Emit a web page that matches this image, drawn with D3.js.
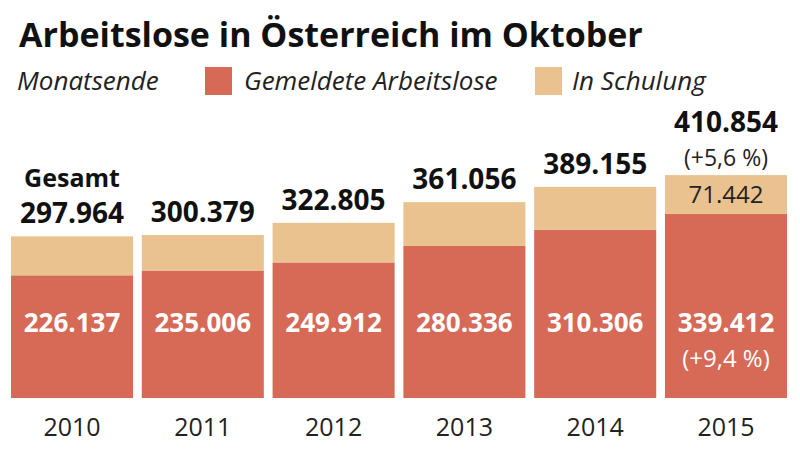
<!DOCTYPE html>
<html>
<head>
<meta charset="utf-8">
<script src="https://cdn.jsdelivr.net/npm/d3@7"></script>
<style>
  html, body { margin: 0; padding: 0; background: #fff; }
  svg { display: block; font-family: "Open Sans", "Noto Sans", sans-serif; }
</style>
</head>
<body>
<svg id="chart" width="800" height="452"></svg>
<script>
const years = ["2010", "2011", "2012", "2013", "2014", "2015"];
const gemeldet = [226137, 235006, 249912, 280336, 310306, 339412];
const schulung = [71827, 65373, 72893, 80720, 78849, 71442];
const gesamt = [297964, 300379, 322805, 361056, 389155, 410854];
const seriesNames = ["Gemeldete Arbeitslose", "In Schulung"];
const colors = ["#d66a57", "#e9c28f"];

const de = d3.formatLocale({ decimal: ",", thousands: ".", grouping: [3], currency: ["", " €"] });
const fmt = de.format(",d");

const svg = d3.select("#chart");

const x = d3.scaleBand().domain(years).range([11, 787]).paddingInner(0.067).paddingOuter(0);
const y = d3.scaleLinear().domain([0, 400000]).range([398, 181]);

const data = years.map((yr, i) => ({ year: yr, g: gemeldet[i], s: schulung[i], t: gesamt[i] }));

// Title
svg.append("text").attr("x", 19).attr("y", 47)
  .attr("font-size", 34).attr("font-weight", 700).attr("fill", "#111")
  .text("Arbeitslose in Österreich im Oktober");

// Legend
const lg = svg.append("g").attr("font-style", "italic").attr("font-size", 26).attr("fill", "#222");
lg.append("text").attr("x", 17).attr("y", 90).text("Monatsende");
lg.append("rect").attr("x", 205).attr("y", 67).attr("width", 27).attr("height", 28).attr("fill", colors[0]);
lg.append("text").attr("x", 244).attr("y", 90).text(seriesNames[0]);
lg.append("rect").attr("x", 535).attr("y", 67).attr("width", 27).attr("height", 28).attr("fill", colors[1]);
lg.append("text").attr("x", 572).attr("y", 90).text(seriesNames[1]);

// Bars
const bars = svg.append("g");
bars.selectAll("rect.g").data(data).join("rect").attr("class", "g")
  .attr("x", d => x(d.year)).attr("width", x.bandwidth())
  .attr("y", d => y(d.g)).attr("height", d => y(0) - y(d.g))
  .attr("fill", colors[0]);
bars.selectAll("rect.s").data(data).join("rect").attr("class", "s")
  .attr("x", d => x(d.year)).attr("width", x.bandwidth())
  .attr("y", d => y(d.g + d.s)).attr("height", d => y(d.g) - y(d.g + d.s))
  .attr("fill", colors[1]);

const cx = d => x(d.year) + x.bandwidth() / 2;
const last = data.length - 1;

// Inner values
svg.append("g").selectAll("text").data(data).join("text")
  .attr("x", cx).attr("y", 332).attr("text-anchor", "middle")
  .attr("font-size", 26).attr("font-weight", 700).attr("fill", "#fff")
  .text(d => fmt(d.g));
svg.append("text").attr("x", cx(data[last])).attr("y", 367).attr("text-anchor", "middle")
  .attr("font-size", 24).attr("fill", "#fff").text("(+9,4 %)");

// Schulung label on last bar
svg.append("text").attr("x", cx(data[last])).attr("y", (y(data[last].g) + y(data[last].g + data[last].s)) / 2 + 9)
  .attr("text-anchor", "middle").attr("font-size", 24).attr("fill", "#222")
  .text(fmt(data[last].s));

// Totals
svg.append("g").selectAll("text").data(data).join("text")
  .attr("x", cx).attr("y", (d, i) => i === last ? y(d.t) - 43 : y(d.t) - 13)
  .attr("text-anchor", "middle").attr("font-size", 28).attr("font-weight", 700).attr("fill", "#111")
  .text(d => fmt(d.t));
svg.append("text").attr("x", cx(data[last])).attr("y", y(data[last].t) - 9).attr("text-anchor", "middle")
  .attr("font-size", 23).attr("fill", "#222").text("(+5,6 %)");
svg.append("text").attr("x", cx(data[0])).attr("y", y(data[0].t) - 49).attr("text-anchor", "middle")
  .attr("font-size", 25).attr("font-weight", 700).attr("fill", "#111").text("Gesamt");

// X axis (labels only)
const xAxis = d3.axisBottom(x).tickSize(0).tickPadding(0);
const ax = svg.append("g").attr("transform", "translate(0,418)").call(xAxis);
ax.select(".domain").remove();
ax.selectAll("text").attr("font-size", 25).attr("fill", "#222").attr("font-family", "'Open Sans', sans-serif");
</script>
</body>
</html>
